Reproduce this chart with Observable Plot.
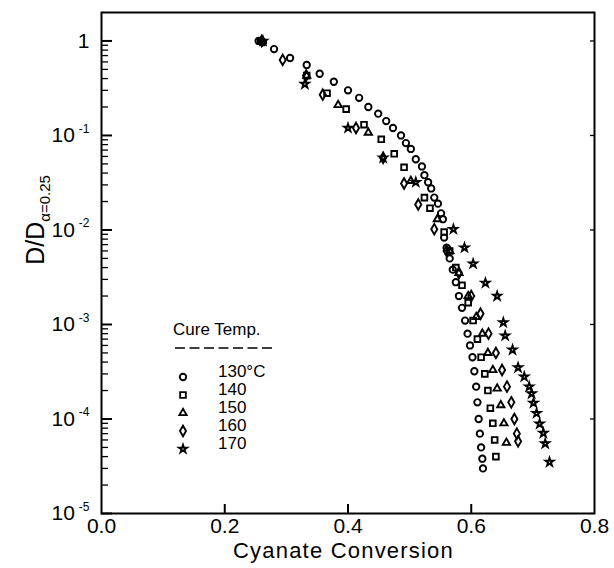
<!DOCTYPE html>
<html><head><meta charset="utf-8">
<script src="https://cdn.jsdelivr.net/npm/d3@7"></script>
<script src="https://cdn.jsdelivr.net/npm/@observablehq/plot@0.6"></script>
<style>body{margin:0;background:#fff} svg{display:block}</style>
</head><body><div id="chart"></div>
<script>
const temps = ["130°C", "140", "150", "160", "170"];
const xTicks = [0, 0.2, 0.4, 0.6, 0.8];
const yTicks = [1e-5, 1e-4, 1e-3, 1e-2, 1e-1, 1];

const x130 = [0.255,0.262,0.280,0.306,0.333,0.354,0.377,0.400,0.418,0.433,0.449,0.462,0.473,0.486,0.494,0.502,0.510,0.520,0.524,0.530,0.535,0.540,0.546,0.551,0.554,0.556,0.560,0.565,0.570,0.575,0.580,0.585,0.590,0.594,0.598,0.602,0.605,0.608,0.610,0.612,0.614,0.616,0.618,0.619];
const y130 = [1.0,0.97,0.82,0.66,0.557,0.45,0.37,0.30,0.25,0.20,0.17,0.142,0.12,0.10,0.083,0.072,0.056,0.047,0.038,0.032,0.0275,0.022,0.019,0.015,0.013,0.0083,0.0065,0.005,0.0038,0.0028,0.002,0.0015,0.0011,0.0008,0.0006,0.00045,0.00032,0.00022,0.00015,0.0001,0.00007,0.00005,0.000038,0.00003];

const x140 = [0.258,0.333,0.366,0.397,0.426,0.454,0.475,0.491,0.524,0.533,0.556,0.565,0.575,0.585,0.595,0.603,0.610,0.616,0.622,0.627,0.631,0.635,0.638,0.640];
const y140 = [1.0,0.43,0.28,0.19,0.13,0.091,0.064,0.046,0.022,0.017,0.0095,0.006,0.004,0.0026,0.0017,0.0011,0.0007,0.00045,0.0003,0.0002,0.00013,0.00009,0.00006,0.00004];

const x150 = [0.260,0.333,0.384,0.433,0.502,0.545,0.565,0.580,0.595,0.608,0.618,0.627,0.635,0.642,0.648,0.653,0.657];
const y150 = [1.0,0.43,0.21,0.107,0.033,0.013,0.006,0.0035,0.002,0.0012,0.0008,0.0005,0.00033,0.00021,0.00014,0.00009,0.000056];

const x160 = [0.260,0.294,0.332,0.359,0.413,0.457,0.491,0.514,0.540,0.560,0.580,0.600,0.615,0.628,0.640,0.650,0.658,0.665,0.670,0.674,0.676];
const y160 = [1.0,0.63,0.43,0.27,0.12,0.058,0.031,0.0186,0.0102,0.006,0.0035,0.002,0.0013,0.0008,0.0005,0.00033,0.00022,0.00015,0.0001,0.00007,0.000058];

const x170 = [0.262,0.330,0.400,0.457,0.510,0.571,0.589,0.603,0.623,0.642,0.652,0.655,0.667,0.676,0.686,0.694,0.698,0.701,0.706,0.711,0.717,0.720,0.727];
const y170 = [1.0,0.35,0.12,0.058,0.032,0.0102,0.0065,0.0044,0.00275,0.002,0.00105,0.00076,0.00054,0.00035,0.00028,0.00022,0.000186,0.000148,0.000115,0.000089,0.000071,0.000055,0.000035];

const seriesX = [x130, x140, x150, x160, x170];
const seriesY = [y130, y140, y150, y160, y170];
const symbols = [d3.symbolCircle, d3.symbolSquare, d3.symbolTriangle, d3.symbolDiamond, d3.symbolStar];
const symbolR = [3.2, 3.2, 2.7, 3.2, 2.5];
const data = temps.flatMap((t, s) => seriesX[s].map((x, i) => ({temp: t, x, y: seriesY[s][i], r: symbolR[s]})));

const minorTicks = [];
for (let e = -5; e < 0; e++) for (let m = 2; m <= 9; m++) minorTicks.push(m * Math.pow(10, e));

const W = 614, H = 568, mL = 101, mR = 20, mT = 12, mB = 55;
const fH = H - mT - mB;
const fW = W - mL - mR;
const font = "Liberation Sans, Arial, sans-serif";

const chart = Plot.plot({
  width: W, height: H,
  marginLeft: mL, marginRight: mR, marginTop: mT, marginBottom: mB,
  style: {fontFamily: font, background: "#fff", color: "#000"},
  x: {domain: [0, 0.8], label: null},
  y: {type: "log", domain: [1e-5, 2], label: null},
  r: {type: "identity"},
  symbol: {domain: temps, range: symbols},
  marks: [
    Plot.axisX(xTicks, {tickSize: 0, tickPadding: 5, fontSize: 21, tickFormat: d3.format(".1f")}),
    Plot.axisY(yTicks, {tickSize: 0, tickPadding: 12, fontSize: 21, tickFormat: d => d === 1 ? "1" : String(Math.round(Math.log10(d)))}),
    Plot.tickX([0.2, 0.4, 0.6], {x: d => d, insetTop: fH - 9, stroke: "black", strokeWidth: 2}),
    Plot.tickY(yTicks, {y: d => d, insetRight: fW - 11, stroke: "black", strokeWidth: 2}),
    Plot.tickY(minorTicks, {y: d => d, insetRight: fW - 7, stroke: "black", strokeWidth: 1.3}),
    Plot.tickY(yTicks, {y: d => d, insetLeft: fW - 4, stroke: "black", strokeWidth: 1.3}),
    Plot.dot(data, {x: "x", y: "y", symbol: "temp", r: "r", stroke: "black", fill: "none", strokeWidth: 1.9}),
    Plot.frame({stroke: "black", strokeWidth: 2})
  ]
});

document.getElementById("chart").appendChild(chart);
const svg = d3.select(chart);

// superscript tick labels on the log axis
svg.selectAll("g[aria-label='y-axis tick label'] text").each(function() {
  const t = d3.select(this);
  const v = t.text();
  if (v !== "1") {
    t.text("10");
    t.append("tspan").attr("dy", "-0.8em").attr("font-size", 12).attr("dx", 4).text(v);
  }
});

// x axis title
svg.append("text").attr("x", mL + fW / 2 - 4).attr("y", 558).attr("text-anchor", "middle")
  .attr("font-family", font).attr("font-size", 22).attr("letter-spacing", 1.2).text("Cyanate Conversion");
// y axis title
const yt = svg.append("text").attr("transform", "translate(44,220) rotate(-90)").attr("text-anchor", "middle")
  .attr("font-family", font).attr("font-size", 25);
yt.append("tspan").text("D/D");
yt.append("tspan").attr("dy", 6).attr("font-size", 15).text("α=0.25");

// legend
const lg = svg.append("g").attr("font-family", font).attr("fill", "black").attr("text-anchor", "start");
lg.append("text").attr("x", 173).attr("y", 335).attr("font-size", 17).attr("text-anchor", "start").text("Cure Temp.");
lg.append("line").attr("x1", 175).attr("x2", 272).attr("y1", 348).attr("y2", 348)
  .attr("stroke", "black").attr("stroke-width", 1.5).attr("stroke-dasharray", "10,4.5");
const rowsY = [377, 395, 413, 431, 449];
temps.forEach((t, i) => {
  lg.append("path").attr("transform", `translate(183,${rowsY[i]})`)
    .attr("d", d3.symbol(symbols[i], Math.PI * symbolR[i] * symbolR[i])())
    .attr("fill", "none").attr("stroke", "black").attr("stroke-width", 1.9);
  lg.append("text").attr("x", 218).attr("y", rowsY[i]).attr("font-size", 17).attr("text-anchor", "start").text(t);
});
</script></body></html>
